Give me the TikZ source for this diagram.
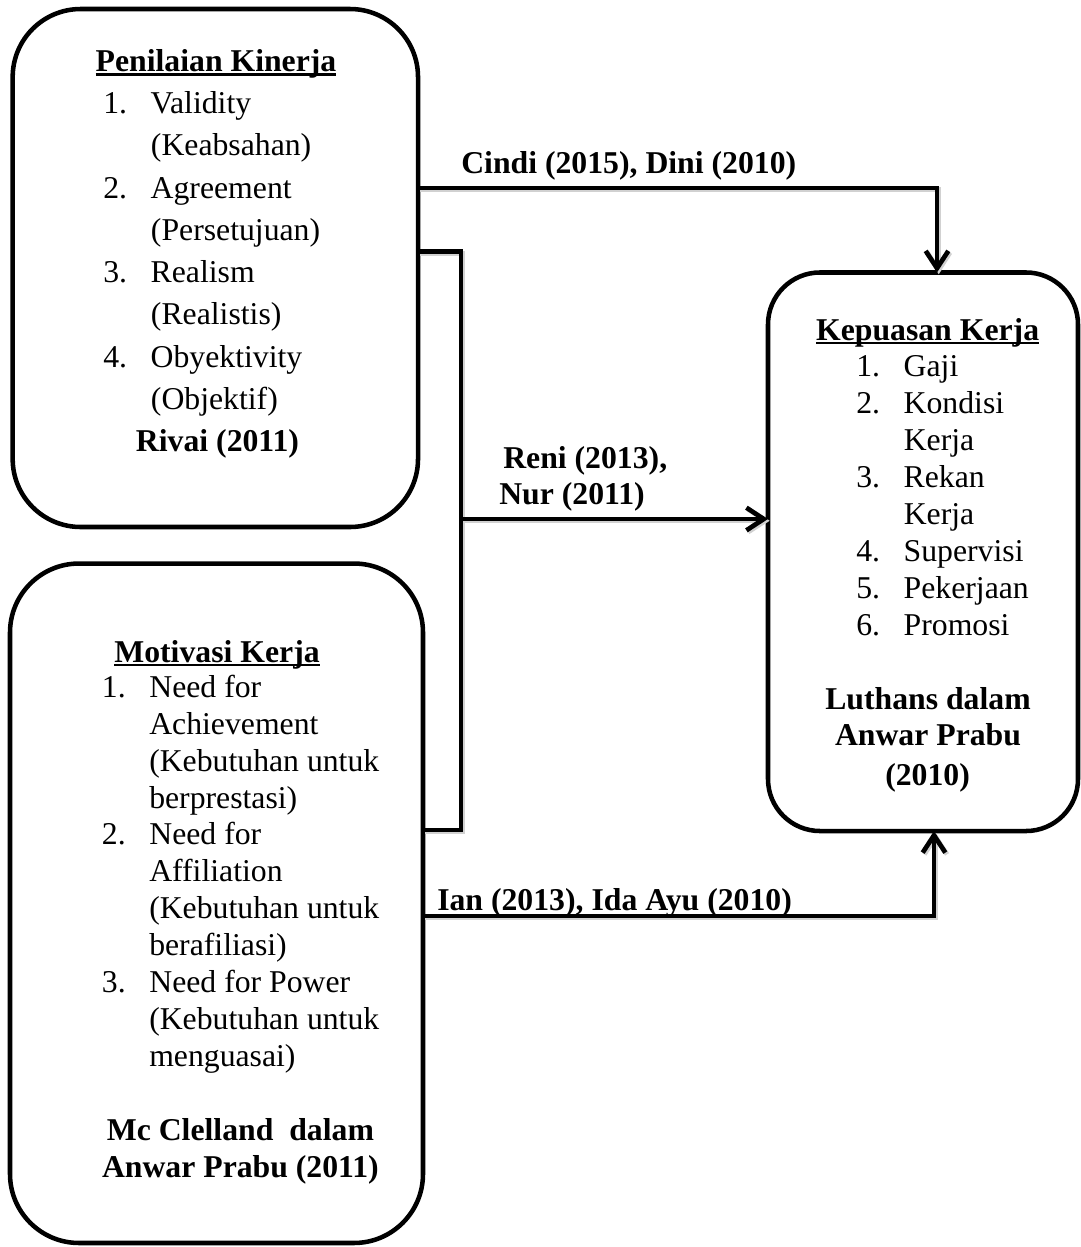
\documentclass[tikz,border=0pt]{standalone}
\usepackage{fontspec}
\setmainfont{Liberation Serif}
\usepackage{tikz}
\usetikzlibrary{arrows.meta}

\newcommand{\titleline}[1]{\setbox0=\hbox{#1}\rlap{\rule[-0.14em]{\wd0}{0.085em}}\box0}
\newcommand{\numitem}[2]{\makebox[35.6pt][l]{#1}#2}

\tikzset{
  box/.style={draw, line width=3.4pt, rounded corners=#1, inner sep=0pt, outer sep=0pt},
  conn/.style={line width=3.5pt, preaction={draw=black!18, line width=3.5pt, transform canvas={shift={(1.3pt,-1.3pt)}}}},
  arr/.style={conn, -{Straight Barb[length=13pt, width=17pt]}},
  txt/.style={anchor=base west, inner sep=0pt},
  ctr/.style={anchor=base, inner sep=0pt},
  lbl/.style={anchor=base west, inner sep=0pt, font=\bfseries}
}

\begin{document}
\begin{tikzpicture}[x=0.75pt,y=0.75pt,yscale=-1,xscale=1]
\fontsize{23.8pt}{28pt}\selectfont
\useasboundingbox (0,0) rectangle (1081,1247);

%Shape: Rounded Rect [Penilaian Kinerja]
\node [box=51pt, minimum width=304pt, minimum height=388.5pt] (pk) at (215.35,268) {};
%Shape: Rounded Rect [Motivasi Kerja]
\node [box=51.75pt, minimum width=309.75pt, minimum height=509.6pt] (mk) at (216.5,903.25) {};
%Shape: Rounded Rect [Kepuasan Kerja]
\node [box=39pt, minimum width=232.5pt, minimum height=418.9pt] (kk) at (923,551.75) {};

%Bends of the connectors
\coordinate (top bend) at (937,188);
\coordinate (brk top) at (461,251.5);
\coordinate (brk mid) at (461,519);
\coordinate (brk bot) at (461,830);
\coordinate (bot bend) at (934,916);

%Straight Lines
\draw [arr] (pk.east |- top bend) -- (top bend) -- (top bend |- kk.north);
\draw [conn] (pk.east |- brk top) -- (brk top) -- (brk bot) -- (mk.east |- brk bot);
\draw [arr] (brk mid) -- (kk.west |- brk mid);
\draw [arr] (mk.east |- bot bend) -- (bot bend) -- (bot bend |- kk.south);

% Text Node
\node [lbl] (lbl cd) at (461,173) {Cindi (2015), Dini (2010)};
% Text Node
\node [lbl] (lbl rn a) at (503,468) {Reni (2013),};
\node [lbl] (lbl rn b) at (499,504) {Nur (2011)};
% Text Node
\node [lbl] (lbl ia) at (437,910) {Ian (2013), Ida Ayu (2010)};

% Text Node [Penilaian Kinerja]
\node [ctr] (pk t) at (216,71.3) {\titleline{\bfseries Penilaian Kinerja}};
\node [txt] (pk 1) at (103,113.6) {\numitem{1.}{Validity}};
\node [txt] (pk 1b) at (150.7,155.8) {(Keabsahan)};
\node [txt] (pk 2) at (103,198.1) {\numitem{2.}{Agreement}};
\node [txt] (pk 2b) at (150.7,240.4) {(Persetujuan)};
\node [txt] (pk 3) at (103,282.6) {\numitem{3.}{Realism}};
\node [txt] (pk 3b) at (150.7,324.9) {(Realistis)};
\node [txt] (pk 4) at (103,367.2) {\numitem{4.}{Obyektivity}};
\node [txt] (pk 4b) at (150.7,409.5) {(Objektif)};
\node [ctr] (pk src) at (217.5,451.7) {\bfseries Rivai (2011)};

% Text Node [Motivasi Kerja]
\node [ctr] (mk t) at (217,662) {\titleline{\bfseries Motivasi Kerja}};
\node [txt] (mk 1) at (101.7,697.3) {\numitem{1.}{Need for}};
\node [txt] (mk 1b) at (149,734.2) {Achievement};
\node [txt] (mk 1c) at (149,771.1) {(Kebutuhan untuk};
\node [txt] (mk 1d) at (149,808) {berprestasi)};
\node [txt] (mk 2) at (101.7,844.9) {\numitem{2.}{Need for}};
\node [txt] (mk 2b) at (149,881.8) {Affiliation};
\node [txt] (mk 2c) at (149,918.7) {(Kebutuhan untuk};
\node [txt] (mk 2d) at (149,955.6) {berafiliasi)};
\node [txt] (mk 3) at (101.7,992.5) {\numitem{3.}{Need for Power}};
\node [txt] (mk 3b) at (149,1029.4) {(Kebutuhan untuk};
\node [txt] (mk 3c) at (149,1066.3) {menguasai)};
\node [ctr] (mk src a) at (240.4,1140.1) {\bfseries Mc Clelland\ \ dalam};
\node [ctr] (mk src b) at (240.4,1177) {\bfseries Anwar Prabu (2011)};

% Text Node [Kepuasan Kerja]
\node [ctr] (kk t) at (927.6,340) {\titleline{\bfseries Kepuasan Kerja}};
\node [txt] (kk 1) at (856,376.9) {\numitem{1.}{Gaji}};
\node [txt] (kk 2) at (856,413.8) {\numitem{2.}{Kondisi}};
\node [txt] (kk 2b) at (903.5,450.7) {Kerja};
\node [txt] (kk 3) at (856,487.6) {\numitem{3.}{Rekan}};
\node [txt] (kk 3b) at (903.5,524.5) {Kerja};
\node [txt] (kk 4) at (856,561.4) {\numitem{4.}{Supervisi}};
\node [txt] (kk 5) at (856,598.3) {\numitem{5.}{Pekerjaan}};
\node [txt] (kk 6) at (856,635.2) {\numitem{6.}{Promosi}};
\node [ctr] (kk src a) at (928,709) {\bfseries Luthans dalam};
\node [ctr] (kk src b) at (928,745.9) {\bfseries Anwar Prabu};
\node [ctr] (kk src c) at (927.6,785) {\bfseries (2010)};

\end{tikzpicture}
\end{document}
